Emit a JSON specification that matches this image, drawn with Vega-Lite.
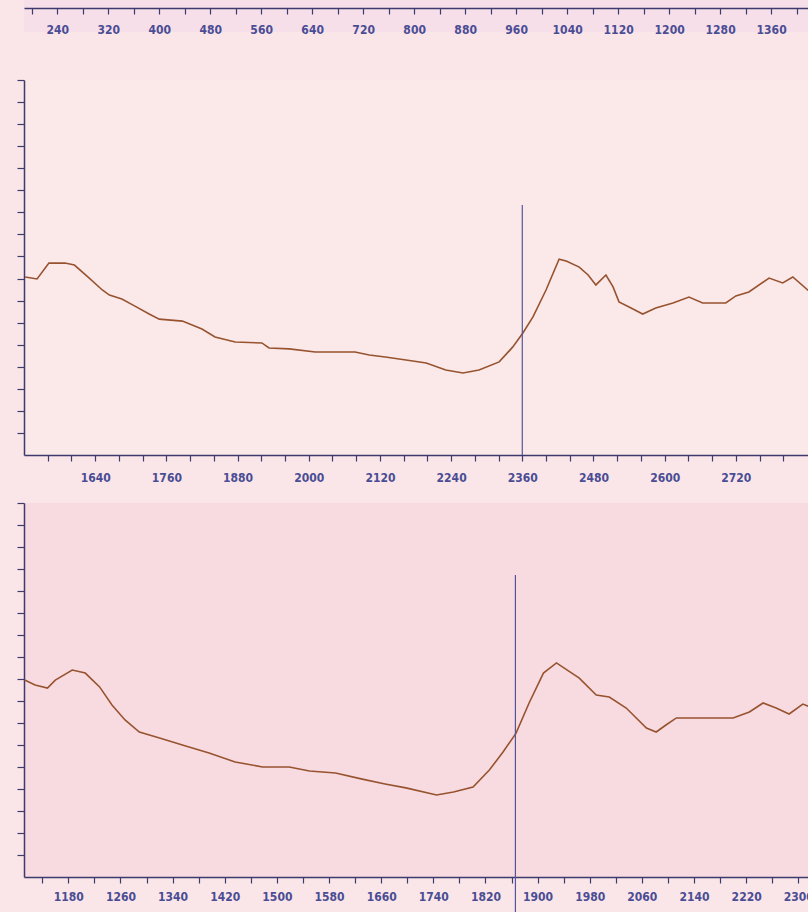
{
  "$schema": "https://vega.github.io/schema/vega-lite/v6.json",
  "padding": {"left": 16, "top": 0, "right": 0, "bottom": 0},
  "background": "#fae6e8",
  "bounds": "flush",
  "spacing": 48,
  "config": {
    "view": {"stroke": null},
    "axis": {
      "domainColor": "#3d3b6e",
      "domainWidth": 1.5,
      "tickColor": "#3d3b6e",
      "tickWidth": 1.2,
      "tickSize": 6,
      "labelFont": "DejaVu Sans Condensed",
      "labelFontSize": 12,
      "labelFontWeight": "bold",
      "labelColor": "#4a4d94",
      "grid": false,
      "title": null
    }
  },
  "datasets": {
    "upper": [
      {"x": 1522, "y": 80.7}, {"x": 1542, "y": 79.8}, {"x": 1562, "y": 87.0}, {"x": 1589, "y": 87.0},
      {"x": 1605, "y": 86.1}, {"x": 1630, "y": 80.2}, {"x": 1652, "y": 74.8}, {"x": 1664, "y": 72.5},
      {"x": 1685, "y": 70.7}, {"x": 1707, "y": 67.5}, {"x": 1731, "y": 63.9}, {"x": 1748, "y": 61.6},
      {"x": 1787, "y": 60.7}, {"x": 1820, "y": 57.1}, {"x": 1842, "y": 53.5}, {"x": 1876, "y": 51.2},
      {"x": 1921, "y": 50.8}, {"x": 1933, "y": 48.5}, {"x": 1967, "y": 48.1}, {"x": 2011, "y": 46.7},
      {"x": 2078, "y": 46.7}, {"x": 2102, "y": 45.3}, {"x": 2129, "y": 44.4}, {"x": 2164, "y": 43.1},
      {"x": 2198, "y": 41.7}, {"x": 2231, "y": 38.5}, {"x": 2260, "y": 37.2}, {"x": 2287, "y": 38.5},
      {"x": 2321, "y": 42.2}, {"x": 2344, "y": 49.0}, {"x": 2361, "y": 55.3}, {"x": 2378, "y": 62.6},
      {"x": 2400, "y": 74.8}, {"x": 2422, "y": 88.8}, {"x": 2434, "y": 87.9}, {"x": 2456, "y": 85.2},
      {"x": 2471, "y": 81.6}, {"x": 2484, "y": 77.1}, {"x": 2501, "y": 81.6}, {"x": 2513, "y": 76.2},
      {"x": 2523, "y": 69.4}, {"x": 2540, "y": 67.1}, {"x": 2563, "y": 63.9}, {"x": 2585, "y": 66.6},
      {"x": 2614, "y": 68.9}, {"x": 2641, "y": 71.6}, {"x": 2664, "y": 68.9}, {"x": 2703, "y": 68.9},
      {"x": 2720, "y": 72.1}, {"x": 2742, "y": 73.9}, {"x": 2776, "y": 80.2}, {"x": 2799, "y": 78.0},
      {"x": 2816, "y": 80.7}, {"x": 2845, "y": 73.9}
    ],
    "upperMarker": [{"x": 2360, "y": 113.3, "y2": 0}],
    "lower": [
      {"x": 1113, "y": 89.5}, {"x": 1129, "y": 87.3}, {"x": 1148, "y": 85.9}, {"x": 1160, "y": 89.5},
      {"x": 1186, "y": 94.1}, {"x": 1206, "y": 92.7}, {"x": 1228, "y": 86.4}, {"x": 1247, "y": 78.2},
      {"x": 1267, "y": 71.4}, {"x": 1289, "y": 65.9}, {"x": 1320, "y": 63.2}, {"x": 1355, "y": 60.0},
      {"x": 1396, "y": 56.4}, {"x": 1436, "y": 52.3}, {"x": 1478, "y": 50.0}, {"x": 1519, "y": 50.0},
      {"x": 1550, "y": 48.2}, {"x": 1590, "y": 47.3}, {"x": 1631, "y": 44.5}, {"x": 1666, "y": 42.3},
      {"x": 1698, "y": 40.5}, {"x": 1745, "y": 37.3}, {"x": 1771, "y": 38.6}, {"x": 1801, "y": 40.9},
      {"x": 1826, "y": 48.6}, {"x": 1847, "y": 56.8}, {"x": 1867, "y": 65.4}, {"x": 1887, "y": 79.1},
      {"x": 1909, "y": 92.7}, {"x": 1929, "y": 97.3}, {"x": 1964, "y": 90.4}, {"x": 1990, "y": 82.7},
      {"x": 2010, "y": 81.8}, {"x": 2036, "y": 76.8}, {"x": 2067, "y": 67.7}, {"x": 2082, "y": 65.9},
      {"x": 2097, "y": 69.1}, {"x": 2113, "y": 72.3}, {"x": 2159, "y": 72.3}, {"x": 2200, "y": 72.3},
      {"x": 2225, "y": 75.0}, {"x": 2246, "y": 79.1}, {"x": 2266, "y": 76.8}, {"x": 2286, "y": 74.1},
      {"x": 2307, "y": 78.6}, {"x": 2318, "y": 77.3}
    ],
    "lowerMarker": [{"x": 1866, "y": 137.3, "y2": -16}]
  },
  "vconcat": [
    {
      "width": 786,
      "height": 32,
      "view": {"fill": "#f6dfe9"},
      "data": {"values": []},
      "mark": {"type": "point", "opacity": 0},
      "encoding": {
        "x": {
          "field": "x",
          "type": "quantitative",
          "scale": {"domain": [188, 1421], "nice": false, "zero": false},
          "axis": {
            "offset": -24,
            "format": "d",
            "values": [200, 240, 280, 320, 360, 400, 440, 480, 520, 560, 600, 640, 680, 720, 760, 800, 840, 880, 920, 960, 1000, 1040, 1080, 1120, 1160, 1200, 1240, 1280, 1320, 1360, 1400],
            "labelExpr": "datum.value % 80 == 0 ? datum.label : ''",
            "labelPadding": 10,
            "labelOverlap": false,
            "labelFlush": false
          }
        }
      }
    },
    {
      "width": 786,
      "height": 375,
      "view": {"fill": "#fbe9ea"},
      "encoding": {
        "x": {
          "field": "x",
          "type": "quantitative",
          "scale": {"domain": [1520, 2845], "nice": false, "zero": false},
          "axis": {
            "format": "d",
            "values": [1560, 1600, 1640, 1680, 1720, 1760, 1800, 1840, 1880, 1920, 1960, 2000, 2040, 2080, 2120, 2160, 2200, 2240, 2280, 2320, 2360, 2400, 2440, 2480, 2520, 2560, 2600, 2640, 2680, 2720, 2760, 2800],
            "labelExpr": "(datum.value - 1640) % 120 == 0 ? datum.label : ''",
            "labelPadding": 11,
            "labelOverlap": false,
            "labelFlush": false
          }
        },
        "y": {
          "field": "y",
          "type": "quantitative",
          "scale": {"domain": [0, 170], "nice": false},
          "axis": {"values": [10, 20, 30, 40, 50, 60, 70, 80, 90, 100, 110, 120, 130, 140, 150, 160, 170], "labels": false, "tickSize": 7}
        }
      },
      "layer": [
        {
          "data": {"name": "upper"},
          "mark": {"type": "line", "color": "#97532f", "strokeWidth": 1.6}
        },
        {
          "data": {"name": "upperMarker"},
          "mark": {"type": "rule", "color": "#55559a", "strokeWidth": 1.2},
          "encoding": {"y2": {"field": "y2"}}
        }
      ]
    },
    {
      "width": 786,
      "height": 374,
      "view": {"fill": "#f8dbe0"},
      "encoding": {
        "x": {
          "field": "x",
          "type": "quantitative",
          "scale": {"domain": [1112, 2318], "nice": false, "zero": false},
          "axis": {
            "format": "d",
            "values": [1140, 1180, 1220, 1260, 1300, 1340, 1380, 1420, 1460, 1500, 1540, 1580, 1620, 1660, 1700, 1740, 1780, 1820, 1860, 1900, 1940, 1980, 2020, 2060, 2100, 2140, 2180, 2220, 2260, 2300],
            "labelExpr": "(datum.value - 1100) % 80 == 0 ? datum.label : ''",
            "labelPadding": 8,
            "labelOverlap": false,
            "labelFlush": false
          }
        },
        "y": {
          "field": "y",
          "type": "quantitative",
          "scale": {"domain": [0, 170], "nice": false},
          "axis": {"values": [10, 20, 30, 40, 50, 60, 70, 80, 90, 100, 110, 120, 130, 140, 150, 160, 170], "labels": false, "tickSize": 7}
        }
      },
      "layer": [
        {
          "data": {"name": "lower"},
          "mark": {"type": "line", "color": "#97532f", "strokeWidth": 1.6}
        },
        {
          "data": {"name": "lowerMarker"},
          "mark": {"type": "rule", "color": "#55559a", "strokeWidth": 1.2},
          "encoding": {"y2": {"field": "y2"}}
        }
      ]
    }
  ]
}
